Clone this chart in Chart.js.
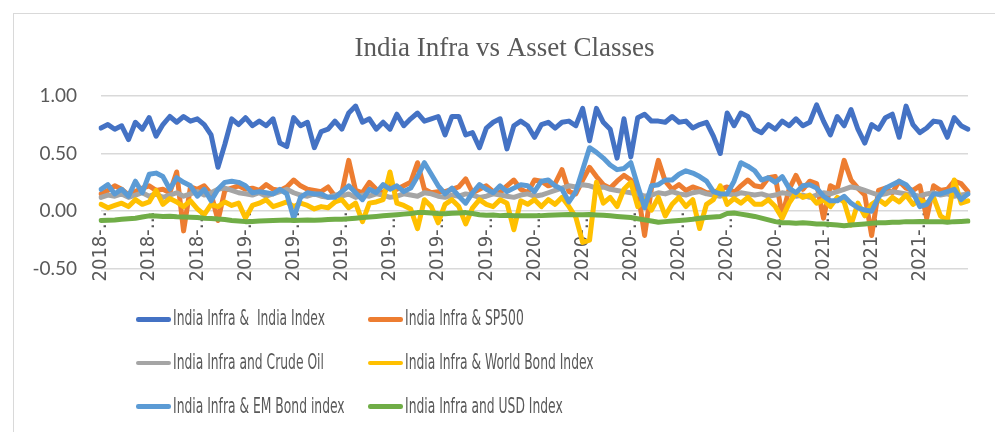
<!DOCTYPE html>
<html>
<head>
<meta charset="utf-8">
<script src="https://cdn.jsdelivr.net/npm/chart.js@4.4.1/dist/chart.umd.min.js"></script>
<style>
  html, body { margin: 0; padding: 0; background: #fff; }
  #wrap { position: relative; width: 995px; height: 432px; overflow: hidden; background: #fff; }
  #frame { position: absolute; left: 13px; top: 13px; width: 1000px; height: 440px;
           border-left: 1.5px solid #d9d9d9; border-top: 1.5px solid #d9d9d9; box-sizing: border-box; }
  #c { position: absolute; left: 0; top: 0; }
  #legend { position: absolute; left: 0; top: 0; width: 995px; height: 432px; pointer-events: none; }
  .sw { position: absolute; width: 35px; height: 4.5px; border-radius: 2.25px; }
  .tx { position: absolute; white-space: pre; color: #595959; font-size: 21px; line-height: 21px;
        font-family: 'Liberation Sans Narrow', 'Arial Narrow', 'DejaVu Sans Condensed', sans-serif;
        transform-origin: 0 0; }
</style>
</head>
<body>
<div id="wrap">
  <div id="frame"></div>
  <canvas id="c" width="995" height="432"></canvas>
  <div id="legend"></div>
</div>
<script>
// ---- data ----
const tickLabels = ['2018-…','2018-…','2018-…','2019-…','2019-…','2019-…','2019-…','2019-…','2019-…',
                    '2020-…','2020-…','2020-…','2020-…','2020-…','2020-…','2021-…','2021-…','2021-…'];
const pointsPerTick = 7;

const seriesNames = ['India Infra &  India Index', 'India Infra & SP500', 'India Infra and Crude Oil',
                     'India Infra & World Bond Index', 'India Infra & EM Bond index', 'India Infra and USD Index'];

const indiaIndex = [
  0.72,0.75,0.71,0.74,0.62,0.77,0.71,0.81,0.65,0.75,0.82,0.77,0.82,0.78,0.80,0.75,0.66,0.38,0.58,0.80,0.75,0.81,0.74,0.78,0.74,0.80,0.59,0.56,0.81,0.74,0.77,0.55,
  0.69,0.71,0.78,0.71,0.85,0.91,0.77,0.80,0.71,0.77,0.71,0.84,0.74,0.80,0.85,0.78,0.80,0.82,0.66,0.82,0.82,0.66,0.68,0.55,0.72,0.77,0.80,0.54,0.74,0.78,0.74,0.64,
  0.75,0.77,0.72,0.77,0.78,0.74,0.89,0.61,0.89,0.77,0.71,0.46,0.80,0.47,0.81,0.84,0.78,0.78,0.77,0.82,0.77,0.78,0.72,0.75,0.77,0.65,0.50,0.85,0.74,0.85,0.82,0.71,
  0.68,0.75,0.71,0.78,0.74,0.80,0.74,0.77,0.92,0.78,0.66,0.82,0.74,0.88,0.71,0.59,0.75,0.71,0.81,0.84,0.64,0.91,0.75,0.68,0.72,0.78,0.77,0.64,0.81,0.74,0.71
];
const sp500 = [
  0.15,0.18,0.22,0.19,0.14,0.17,0.20,0.22,0.18,0.19,0.16,0.34,-0.17,0.21,0.19,0.22,0.15,-0.08,0.18,0.20,0.22,0.19,0.20,0.18,0.23,0.19,0.18,0.21,0.27,0.22,0.19,0.18,
  0.17,0.21,0.13,0.16,0.44,0.18,0.16,0.25,0.19,0.16,0.22,0.19,0.22,0.25,0.42,0.19,0.16,0.17,0.17,0.19,0.21,0.28,0.16,0.19,0.22,0.17,0.16,0.22,0.27,0.19,0.16,0.27,
  0.26,0.22,0.24,0.36,0.17,0.15,0.27,0.38,0.30,0.23,0.20,0.26,0.31,0.27,0.18,-0.21,0.20,0.44,0.26,0.19,0.23,0.18,0.21,0.19,0.16,0.16,0.19,0.21,0.16,0.22,0.27,0.22,
  0.21,0.29,0.30,-0.04,0.19,0.31,0.19,0.26,0.24,-0.06,0.22,0.19,0.44,0.27,0.20,0.14,-0.21,0.18,0.20,0.16,0.26,0.20,0.18,0.22,-0.06,0.22,0.18,0.19,0.26,0.24,0.17
];
const crudeOil = [
  0.12,0.14,0.13,0.15,0.12,0.14,0.16,0.13,0.15,0.12,0.14,0.16,0.13,0.15,0.17,0.14,0.16,0.19,0.20,0.18,0.16,0.15,0.14,0.16,0.13,0.15,0.17,0.19,0.16,0.14,0.13,0.15,
  0.13,0.12,0.14,0.13,0.15,0.12,0.14,0.13,0.15,0.14,0.12,0.13,0.15,0.14,0.13,0.16,0.15,0.13,0.12,0.14,0.13,0.15,0.14,0.12,0.13,0.15,0.14,0.13,0.12,0.14,0.15,0.13,
  0.14,0.16,0.18,0.20,0.22,0.21,0.23,0.22,0.20,0.21,0.19,0.18,0.17,0.16,0.15,0.13,0.14,0.16,0.15,0.17,0.15,0.14,0.16,0.17,0.15,0.14,0.13,0.15,0.14,0.16,0.15,0.14,
  0.15,0.13,0.14,0.16,0.15,0.13,0.14,0.12,0.14,0.16,0.15,0.17,0.19,0.21,0.20,0.18,0.16,0.14,0.15,0.17,0.16,0.15,0.14,0.13,0.15,0.16,0.14,0.15,0.13,0.14,0.15
];
const worldBond = [
  0.06,0.03,0.05,0.07,0.04,0.10,0.06,0.08,0.18,0.06,0.11,0.08,0.04,0.09,0.02,-0.03,0.06,0.04,0.08,0.05,0.07,-0.06,0.05,0.07,0.10,0.04,0.06,0.08,0.04,0.07,0.05,0.02,
  0.04,0.03,0.08,0.10,0.03,0.07,-0.09,0.07,0.08,0.10,0.34,0.07,0.05,0.02,-0.15,0.10,0.04,-0.10,0.06,0.10,0.04,-0.11,0.03,0.10,0.06,0.04,0.10,0.07,-0.16,0.09,0.06,0.10,
  0.04,0.10,0.06,0.12,0.04,-0.05,-0.27,-0.25,0.25,0.07,0.12,0.04,0.19,0.25,0.04,0.10,0.01,0.12,-0.04,0.06,0.12,0.04,0.10,-0.15,0.06,0.10,0.22,0.06,0.11,0.07,0.12,0.06,
  0.06,0.10,0.04,-0.06,0.07,0.16,0.12,0.14,0.07,0.10,0.04,0.12,0.08,-0.12,0.07,-0.04,0.06,0.10,0.06,0.12,0.08,0.14,0.06,0.10,0.07,0.12,-0.04,-0.08,0.27,0.07,0.09
];
const emBond = [
  0.19,0.23,0.15,0.19,0.13,0.26,0.16,0.32,0.33,0.30,0.19,0.29,0.25,0.22,0.13,0.19,0.09,0.19,0.25,0.26,0.25,0.22,0.16,0.17,0.16,0.15,0.19,0.15,-0.06,0.12,0.16,0.15,
  0.15,0.12,0.12,0.17,0.22,0.16,0.10,0.19,0.16,0.23,0.19,0.22,0.17,0.20,0.30,0.42,0.32,0.22,0.15,0.20,0.13,0.07,0.16,0.23,0.19,0.16,0.22,0.17,0.20,0.23,0.22,0.17,
  0.26,0.27,0.22,0.19,0.08,0.17,0.36,0.55,0.51,0.46,0.40,0.36,0.37,0.42,0.22,0.03,0.22,0.23,0.27,0.27,0.32,0.35,0.33,0.30,0.26,0.17,0.15,0.15,0.26,0.42,0.39,0.35,
  0.27,0.29,0.25,0.30,0.20,0.16,0.22,0.23,0.20,0.13,0.09,0.09,0.13,0.07,0.03,0.01,0.00,0.12,0.20,0.23,0.26,0.23,0.16,0.04,0.06,0.15,0.15,0.17,0.19,0.10,0.15
];
const usdIndex = [
  -0.080,-0.078,-0.075,-0.070,-0.065,-0.060,-0.050,-0.040,-0.042,-0.045,-0.043,-0.048,-0.050,-0.052,-0.055,-0.060,-0.062,-0.068,-0.072,-0.080,-0.085,-0.090,-0.088,-0.085,-0.083,-0.080,-0.078,-0.075,-0.080,-0.078,-0.075,-0.078,
  -0.075,-0.072,-0.070,-0.070,-0.065,-0.060,-0.055,-0.050,-0.045,-0.040,-0.035,-0.030,-0.025,-0.020,-0.012,-0.010,-0.015,-0.020,-0.022,-0.018,-0.015,-0.012,-0.020,-0.030,-0.035,-0.033,-0.038,-0.035,-0.040,-0.038,-0.040,-0.040,
  -0.038,-0.035,-0.033,-0.030,-0.028,-0.030,-0.030,-0.028,-0.032,-0.035,-0.040,-0.045,-0.050,-0.055,-0.065,-0.075,-0.085,-0.095,-0.090,-0.085,-0.080,-0.075,-0.070,-0.060,-0.055,-0.050,-0.045,-0.020,-0.015,-0.025,-0.035,-0.045,
  -0.060,-0.075,-0.090,-0.100,-0.100,-0.105,-0.100,-0.105,-0.110,-0.110,-0.115,-0.120,-0.125,-0.120,-0.115,-0.110,-0.105,-0.100,-0.100,-0.095,-0.095,-0.090,-0.090,-0.088,-0.090,-0.092,-0.090,-0.095,-0.090,-0.088,-0.085
];

// ---- styles ----
const seriesColors = ['#4472C4', '#ED7D31', '#A5A5A5', '#FFC000', '#5B9BD5', '#70AD47'];
const textColor = '#595959';

const series = [indiaIndex, sp500, crudeOil, worldBond, emBond, usdIndex];
const categories = indiaIndex.map((_, i) => i);

const chart = new Chart(document.getElementById('c').getContext('2d'), {
  type: 'line',
  data: {
    labels: categories,
    datasets: series.map((d, i) => ({
      label: seriesNames[i],
      data: d,
      borderColor: seriesColors[i],
      backgroundColor: seriesColors[i],
      borderWidth: 5,
      pointRadius: 0,
      pointHoverRadius: 0,
      tension: 0,
      fill: false,
      borderJoinStyle: 'round',
      borderCapStyle: 'round',
      order: series.length - 1 - i
    }))
  },
  options: {
    responsive: false,
    animation: false,
    devicePixelRatio: 1,
    layout: { padding: { left: 14, right: 0, top: 14, bottom: 163 } },
    plugins: {
      legend: { display: false },
      tooltip: { enabled: false },
      title: {
        display: true,
        text: 'India Infra vs Asset Classes',
        color: textColor,
        font: { family: "'Liberation Serif', 'Times New Roman', serif", size: 27, weight: 'normal', lineHeight: 1.2 },
        padding: { top: 18.7, bottom: 30.6 }
      }
    },
    scales: {
      x: {
        type: 'category',
        position: { y: 0 },
        z: 1,
        grid: { display: false, drawTicks: false },
        border: { display: false },
        ticks: {
          autoSkip: false,
          minRotation: 90,
          maxRotation: 90,
          padding: 0,
          color: textColor,
          font: { family: "'Liberation Sans Narrow', 'Arial Narrow', 'DejaVu Sans Condensed', sans-serif", size: 20 },
          callback: (v, i) => (i % pointsPerTick === 0 ? tickLabels[i / pointsPerTick] : null)
        }
      },
      y: {
        min: -0.5,
        max: 1.0,
        grid: { color: '#d9d9d9', lineWidth: 1.5, drawTicks: false },
        border: { display: false },
        ticks: {
          stepSize: 0.5,
          padding: 24,
          color: textColor,
          font: { family: 'Lato, sans-serif', size: 19 },
          callback: v => v.toFixed(2)
        },
        afterFit: s => { s.width = 87; }
      },
      yRight: {
        position: 'right',
        min: -0.5,
        max: 1.0,
        grid: { display: false, drawTicks: false },
        border: { display: false },
        ticks: { display: false },
        afterFit: s => { s.width = 27; }
      }
    }
  }
});

// ---- HTML legend (two columns, built from the chart's datasets) ----
(function buildLegend() {
  const box = document.getElementById('legend');
  const colX = [136, 368];
  const rowY = [319.3, 363, 406.7];
  const m = document.createElement('canvas').getContext('2d');
  m.font = "21px 'Liberation Sans Narrow', 'Arial Narrow', 'DejaVu Sans Condensed', sans-serif";
  const scale = 152 / m.measureText(seriesNames[0]).width;
  chart.data.datasets.forEach((ds, i) => {
    const col = i % 2, row = Math.floor(i / 2);
    const sw = document.createElement('div');
    sw.className = 'sw';
    sw.style.left = colX[col] + 'px';
    sw.style.top = (rowY[row] - 2.25) + 'px';
    sw.style.background = ds.borderColor;
    box.appendChild(sw);
    const tx = document.createElement('div');
    tx.className = 'tx';
    tx.textContent = ds.label;
    tx.style.left = (colX[col] + 37) + 'px';
    tx.style.top = (rowY[row] - 11.1) + 'px';
    tx.style.transform = 'scaleX(' + scale.toFixed(4) + ')';
    box.appendChild(tx);
  });
})();
</script>
</body>
</html>
